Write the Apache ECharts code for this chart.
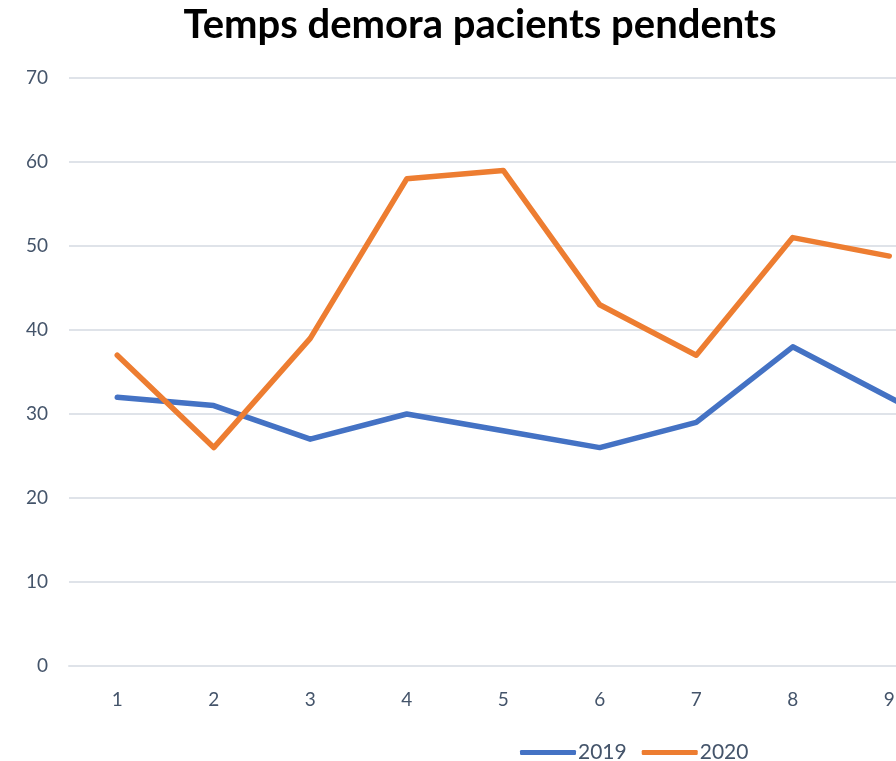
<!DOCTYPE html>
<html>
<head>
<meta charset="utf-8">
<script src="https://cdn.jsdelivr.net/npm/echarts@6/dist/echarts.min.js"></script>
<style>html,body{margin:0;padding:0;background:#fff;overflow:hidden;width:896px;height:761px}#c{width:1100px;height:761px}</style>
</head>
<body>
<div id="c"></div>
<script>
const categories = ['1','2','3','4','5','6','7','8','9','10'];
const values2019 = [32, 31, 27, 30, 28, 26, 29, 38, 32, 26];
const values2020 = [37, 26, 39, 58, 59, 43, 37, 51, 48.8];
const yTicks = { min: 0, max: 70, interval: 10 };

const chart = echarts.init(document.getElementById('c'), null, { renderer: 'canvas' });
const labelColor = '#44546a';
const font = 'Lato';
chart.setOption({
  animation: false,
  backgroundColor: '#ffffff',
  title: {
    text: 'Temps demora pacients pendents',
    left: 475, top: 0, textAlign: 'center',
    textStyle: { fontFamily: font, fontWeight: 'bold', fontSize: 40, color: '#000000' }
  },
  legend: {
    data: ['2019', '2020'],
    left: 515, top: 737,
    icon: 'roundRect', itemWidth: 56, itemHeight: 5, itemGap: 15,
    textStyle: { fontFamily: font, fontSize: 21, color: labelColor, padding: [0, 0, 0, -3] }
  },
  grid: { left: 69, width: 965, top: 78, bottom: 95, containLabel: false, outerBoundsMode: 'none' },
  xAxis: {
    type: 'category', data: categories, boundaryGap: true,
    axisLine: { show: true, lineStyle: { color: '#dfe3e9', width: 2 } },
    axisTick: { show: false },
    axisLabel: { fontFamily: font, fontSize: 19, color: labelColor, margin: 24 }
  },
  yAxis: {
    type: 'value', min: yTicks.min, max: yTicks.max, interval: yTicks.interval,
    axisLine: { show: false }, axisTick: { show: false },
    axisLabel: { fontFamily: font, fontSize: 19, color: labelColor, margin: 21 },
    splitLine: { lineStyle: { color: '#dfe3e9', width: 2 } }
  },
  series: [
    { name: '2019', type: 'line', data: values2019, showSymbol: false, symbol: 'none',
      lineStyle: { color: '#4472c4', width: 5.5, cap: 'round', join: 'round' }, itemStyle: { color: '#4472c4' } },
    { name: '2020', type: 'line', data: values2020, showSymbol: false, symbol: 'none',
      lineStyle: { color: '#ed7d31', width: 5.5, cap: 'round', join: 'round' }, itemStyle: { color: '#ed7d31' } }
  ]
});
</script>
</body>
</html>
